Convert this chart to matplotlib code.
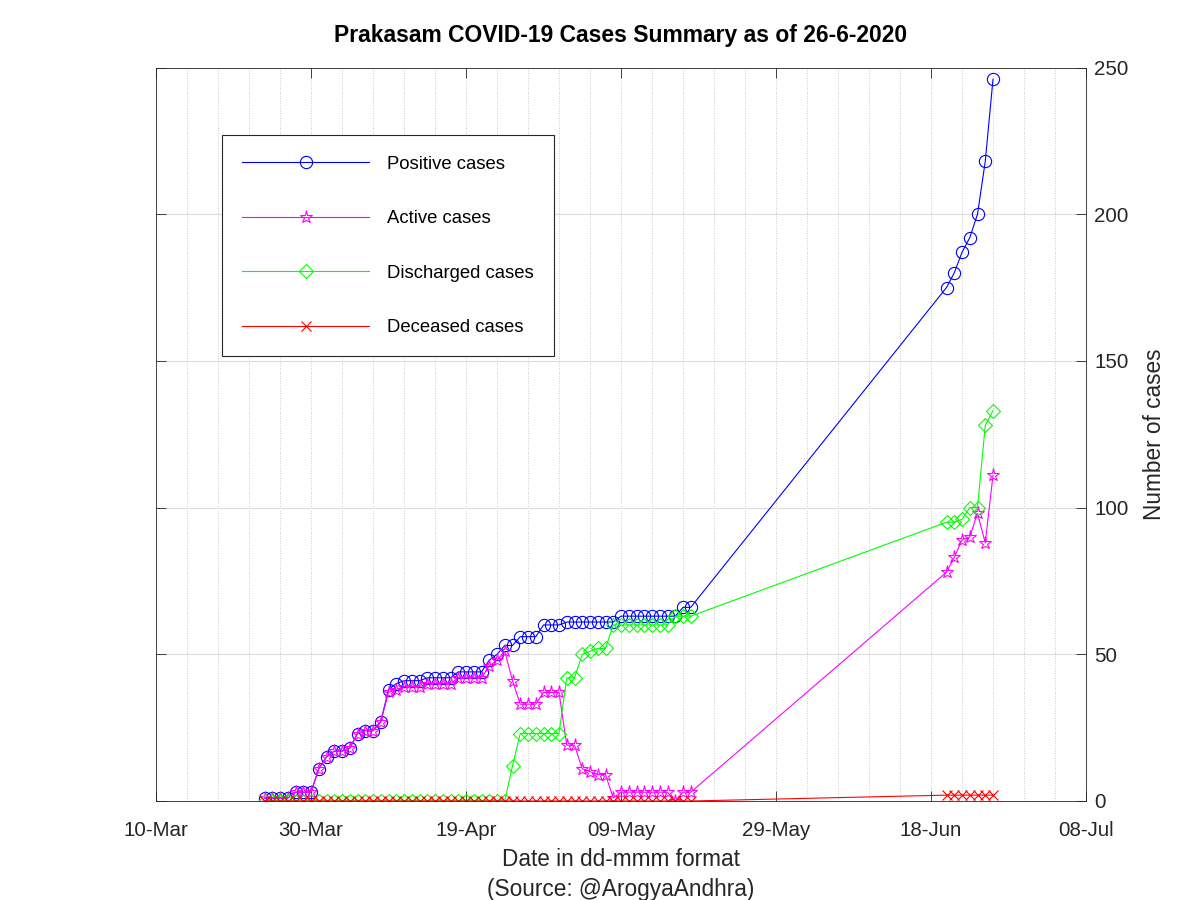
import matplotlib
matplotlib.use("Agg")
import matplotlib.pyplot as plt
import matplotlib.dates as mdates
import matplotlib.ticker as mticker
import datetime as dt

plt.rcParams['font.family'] = ['Liberation Sans', 'DejaVu Sans']

# ---- data ----
dates = [
    "2020-03-24", "2020-03-25", "2020-03-26", "2020-03-27", "2020-03-28", "2020-03-29", "2020-03-30",
    "2020-03-31", "2020-04-01", "2020-04-02", "2020-04-03", "2020-04-04", "2020-04-05", "2020-04-06",
    "2020-04-07", "2020-04-08", "2020-04-09", "2020-04-10", "2020-04-11", "2020-04-12", "2020-04-13",
    "2020-04-14", "2020-04-15", "2020-04-16", "2020-04-17", "2020-04-18", "2020-04-19", "2020-04-20",
    "2020-04-21", "2020-04-22", "2020-04-23", "2020-04-24", "2020-04-25", "2020-04-26", "2020-04-27",
    "2020-04-28", "2020-04-29", "2020-04-30", "2020-05-01", "2020-05-02", "2020-05-03", "2020-05-04",
    "2020-05-05", "2020-05-06", "2020-05-07", "2020-05-08", "2020-05-09", "2020-05-10", "2020-05-11",
    "2020-05-12", "2020-05-13", "2020-05-14", "2020-05-15", "2020-05-16", "2020-05-17", "2020-05-18",
    "2020-06-20", "2020-06-21", "2020-06-22", "2020-06-23", "2020-06-24", "2020-06-25", "2020-06-26",
]

positive = [1, 1, 1, 1, 3, 3, 3,
            11, 15, 17, 17, 18, 23, 24,
            24, 27, 38, 40, 41, 41, 41,
            42, 42, 42, 42, 44, 44, 44,
            44, 48, 50, 53, 53, 56, 56,
            56, 60, 60, 60, 61, 61, 61,
            61, 61, 61, 61, 63, 63, 63,
            63, 63, 63, 63, 63, 66, 66,
            175, 180, 187, 192, 200, 218, 246]

active = [1, 1, 1, 1, 3, 3, 3,
          11, 15, 17, 17, 18, 23, 24,
          24, 27, 37, 38, 39, 39, 39,
          40, 40, 40, 40, 42, 42, 42,
          42, 46, 48, 51, 41, 33, 33,
          33, 37, 37, 37, 19, 19, 11,
          10, 9, 9, 1, 3, 3, 3,
          3, 3, 3, 3, 0, 3, 3,
          78, 83, 89, 90, 98, 88, 111]

discharged = [0, 0, 0, 0, 0, 0, 0,
              0, 0, 0, 0, 0, 0, 0,
              0, 0, 0, 0, 0, 0, 0,
              0, 0, 0, 0, 0, 0, 0,
              0, 0, 0, 0, 12, 23, 23,
              23, 23, 23, 23, 42, 42, 50,
              51, 52, 52, 60, 60, 60, 60,
              60, 60, 60, 60, 63, 63, 63,
              95, 95, 96, 100, 100, 128, 133]

deceased = [0, 0, 0, 0, 0, 0, 0,
            0, 0, 0, 0, 0, 0, 0,
            0, 0, 0, 0, 0, 0, 0,
            0, 0, 0, 0, 0, 0, 0,
            0, 0, 0, 0, 0, 0, 0,
            0, 0, 0, 0, 0, 0, 0,
            0, 0, 0, 0, 0, 0, 0,
            0, 0, 0, 0, 0, 0, 0,
            2, 2, 2, 2, 2, 2, 2]

series_labels = ["Positive cases", "Active cases", "Discharged cases", "Deceased cases"]
title_text = "Prakasam COVID-19 Cases Summary as of 26-6-2020"
xlabel_text = "Date in dd-mmm format\n(Source: @ArogyaAndhra)"
ylabel_text = "Number of cases"
y_ticks = [0, 50, 100, 150, 200, 250]

# ---- plot ----
x = [dt.datetime.strptime(d, "%Y-%m-%d") for d in dates]
x_start = dt.datetime(2020, 3, 10)
x_end = dt.datetime(2020, 7, 8)

fig = plt.figure(figsize=(12, 9), dpi=100)
ax = fig.add_axes([0.13, 0.11, 0.775, 0.815])

lw = 0.8
ax.plot(x, positive, color=(0, 0, 1), lw=lw, marker='o', ms=8.8, mfc='none', mew=0.8, label=series_labels[0])
ax.plot(x, active, color=(1, 0, 1), lw=lw, marker='*', ms=9.5, mfc='none', mew=0.8, label=series_labels[1])
ax.plot(x, discharged, color=(0, 1, 0), lw=lw, marker='D', ms=7.0, mfc='none', mew=0.8, label=series_labels[2])
ax.plot(x, deceased, color=(1, 0, 0), lw=lw, marker='x', ms=7.5, mew=0.8, label=series_labels[3])

ax.set_xlim(x_start, x_end)
ax.set_ylim(0, 250)

major_dates = [x_start + dt.timedelta(days=20 * i) for i in range(7)]
minor_dates = [x_start + dt.timedelta(days=4 * i) for i in range(31)]
ax.xaxis.set_major_locator(mticker.FixedLocator(mdates.date2num(major_dates)))
ax.xaxis.set_minor_locator(mticker.FixedLocator(mdates.date2num(minor_dates)))
ax.xaxis.set_major_formatter(mdates.DateFormatter('%d-%b'))
ax.set_yticks(y_ticks)

ax.yaxis.tick_right()
ax.yaxis.set_label_position('right')
ax.tick_params(axis='both', which='both', direction='in', top=True, bottom=True, left=True, right=True,
               labelsize=14.8, colors='#262626', labelcolor='#262626')
ax.tick_params(axis='both', which='major', length=7, width=0.6)
ax.tick_params(axis='x', which='major', pad=14.5)
ax.tick_params(axis='y', which='major', pad=6)
ax.tick_params(axis='both', which='minor', length=0)

ax.grid(True, axis='x', which='both', linestyle=(0, (1, 2)), color='#b8b8b8', lw=0.6)
ax.grid(True, axis='y', which='major', linestyle='-', color='#dcdcdc', lw=0.8)
ax.set_axisbelow(True)

for s in ax.spines.values():
    s.set_color('#262626')
    s.set_linewidth(0.6)

ax.set_title(title_text, fontsize=16.5, fontweight='bold', pad=18.7)
ax.set_xlabel(xlabel_text, fontsize=16.3, color='#262626', labelpad=6, linespacing=1.36)
ax.set_ylabel(ylabel_text, fontsize=16.3, color='#262626', labelpad=10)

leg = ax.legend(loc='upper left', bbox_to_anchor=(0.071, 0.9075), fontsize=13.3, numpoints=1,
                handlelength=6.87, handletextpad=0.97, labelspacing=2.03, borderpad=1.1,
                borderaxespad=0, fancybox=False, framealpha=1, edgecolor='#262626')
leg.get_frame().set_linewidth(0.8)

fig.savefig("out.png", dpi=100)
